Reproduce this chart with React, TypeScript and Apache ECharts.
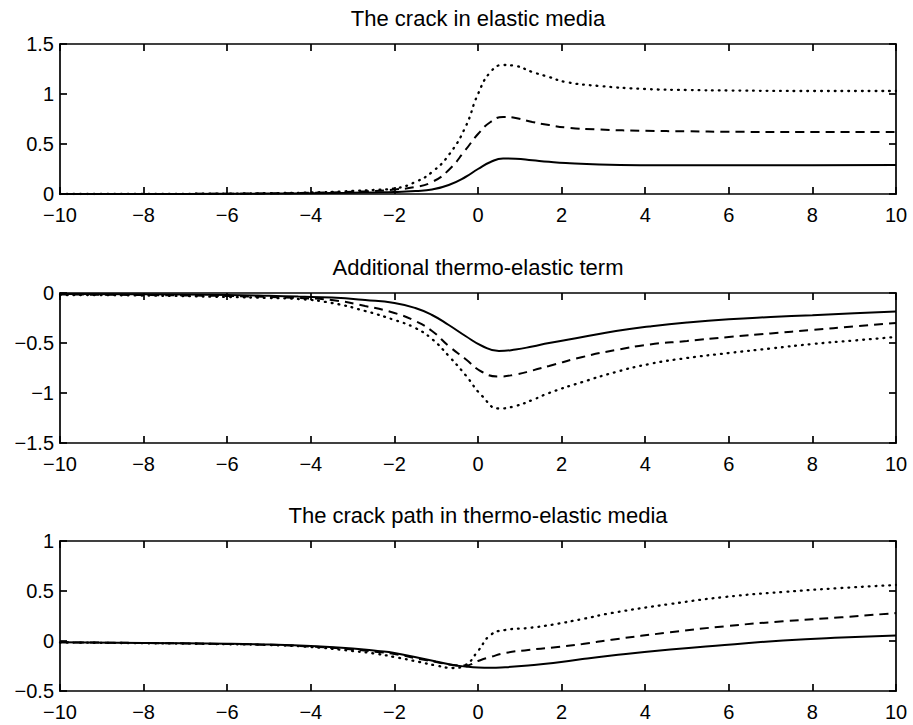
import React, { useEffect, useRef } from "react";
import * as echarts from "echarts";

// ---- Panel 1: The crack in elastic media ----
const xTop = [-10, -8, -6, -5, -4, -3, -2.5, -2, -1.5, -1.1, -0.7, -0.3, 0, 0.3, 0.6, 0.9, 1.3, 1.7, 2.1, 2.9, 4, 5, 6, 8, 10];
const topSolid = [0, 0, 0.002, 0.004, 0.007, 0.012, 0.016, 0.02, 0.03, 0.045, 0.09, 0.17, 0.25, 0.32, 0.355, 0.352, 0.337, 0.322, 0.31, 0.295, 0.288, 0.287, 0.287, 0.288, 0.29];
const topDashed = [0, 0, 0.003, 0.006, 0.012, 0.022, 0.03, 0.045, 0.07, 0.12, 0.24, 0.44, 0.6, 0.72, 0.77, 0.76, 0.72, 0.69, 0.665, 0.645, 0.632, 0.627, 0.622, 0.62, 0.62];
const topDotted = [0, 0.001, 0.004, 0.008, 0.015, 0.03, 0.04, 0.055, 0.12, 0.22, 0.39, 0.67, 1.0, 1.22, 1.29, 1.28, 1.22, 1.17, 1.12, 1.08, 1.05, 1.04, 1.035, 1.03, 1.03];

// ---- Panel 2: Additional thermo-elastic term ----
const xMid = [-10, -8, -6, -5, -4.3, -3.5, -2.7, -2, -1.5, -1.1, -0.7, -0.3, 0.1, 0.5, 0.9, 1.3, 1.7, 2.5, 3.3, 4.1, 5, 6, 7, 8, 9, 10];
const midSolid = [-0.01, -0.012, -0.02, -0.028, -0.036, -0.046, -0.07, -0.1, -0.15, -0.22, -0.32, -0.43, -0.53, -0.58, -0.565, -0.535, -0.5, -0.44, -0.38, -0.335, -0.295, -0.262, -0.24, -0.222, -0.202, -0.185];
const midDashed = [-0.015, -0.02, -0.03, -0.04, -0.05, -0.07, -0.13, -0.2, -0.28, -0.38, -0.53, -0.66, -0.79, -0.835, -0.815, -0.775, -0.73, -0.64, -0.57, -0.515, -0.48, -0.44, -0.405, -0.37, -0.335, -0.3];
const midDotted = [-0.02, -0.025, -0.04, -0.05, -0.06, -0.1, -0.18, -0.27, -0.35, -0.46, -0.63, -0.82, -1.03, -1.155, -1.13, -1.07, -1.0, -0.89, -0.79, -0.71, -0.65, -0.6, -0.555, -0.51, -0.475, -0.44];

// ---- Panel 3: The crack path in thermo-elastic media ----
const xBot = [-10, -8, -6, -5, -4, -3, -2.4, -2, -1.4, -1, -0.6, -0.3, 0, 0.3, 0.65, 1.2, 1.8, 2.5, 3.2, 4.6, 5.9, 7.3, 8.7, 10];
const botSolid = [-0.013, -0.02, -0.027, -0.035, -0.05, -0.075, -0.1, -0.12, -0.17, -0.205, -0.24, -0.255, -0.265, -0.268, -0.262, -0.245, -0.22, -0.18, -0.145, -0.085, -0.04, 0.005, 0.035, 0.055];
const botDashed = [-0.013, -0.02, -0.03, -0.038, -0.055, -0.085, -0.11, -0.13, -0.18, -0.21, -0.24, -0.245, -0.2, -0.16, -0.12, -0.09, -0.064, -0.03, 0.013, 0.087, 0.147, 0.197, 0.237, 0.28];
const botDotted = [-0.015, -0.022, -0.032, -0.04, -0.06, -0.1, -0.13, -0.16, -0.21, -0.245, -0.27, -0.24, -0.1, 0.06, 0.11, 0.13, 0.165, 0.22, 0.28, 0.37, 0.44, 0.49, 0.53, 0.56];

const titles = ["The crack in elastic media", "Additional thermo-elastic term", "The crack path in thermo-elastic media"];
const yRanges = [
  [0, 1.5],
  [-1.5, 0],
  [-0.5, 1],
];
const xTicks = { min: -10, max: 10, interval: 2 };
const yInterval = 0.5;

const FONT = "'Liberation Sans', Arial, Helvetica, sans-serif";
const GRID_LEFT = 60;
const GRID_W = 836;
const GRID_H = 150;
const GRID_TOPS = [44, 293, 541];

const fmt = (v: number) => String(v).replace("-", "\u2212");

function pairs(xs: number[], ys: number[]) {
  return xs.map((x, i) => [x, ys[i]]);
}

export default function App() {
  const ref = useRef<HTMLDivElement>(null);
  useEffect(() => {
    if (!ref.current) return;
    const chart = echarts.init(ref.current, undefined, { renderer: "svg" });
    const axisLine = { show: true, onZero: false, lineStyle: { color: "#000", width: 1.7 } };
    const tick = { show: true, inside: true, length: 7, lineStyle: { color: "#000", width: 1.7 } };
    const grids: any[] = [];
    const xAxes: any[] = [];
    const yAxes: any[] = [];
    GRID_TOPS.forEach((t, i) => {
      grids.push({ left: GRID_LEFT, top: t, width: GRID_W, height: GRID_H, show: false });
      xAxes.push({
        type: "value", gridIndex: i, position: "bottom", ...xTicks,
        axisLine, axisTick: tick, splitLine: { show: false },
        axisLabel: { color: "#000", fontSize: 20, fontFamily: FONT, margin: 11, formatter: fmt },
      });
      xAxes.push({
        type: "value", gridIndex: i, position: "top", ...xTicks,
        axisLine, axisTick: tick, splitLine: { show: false }, axisLabel: { show: false },
      });
      yAxes.push({
        type: "value", gridIndex: i, position: "left", min: yRanges[i][0], max: yRanges[i][1], interval: yInterval,
        axisLine, axisTick: tick, splitLine: { show: false },
        axisLabel: { color: "#000", fontSize: 20, fontFamily: FONT, margin: 6, formatter: fmt },
      });
      yAxes.push({
        type: "value", gridIndex: i, position: "right", min: yRanges[i][0], max: yRanges[i][1], interval: yInterval,
        axisLine, axisTick: tick, splitLine: { show: false }, axisLabel: { show: false },
      });
    });
    const panels = [
      [xTop, topSolid, topDashed, topDotted],
      [xMid, midSolid, midDashed, midDotted],
      [xBot, botSolid, botDashed, botDotted],
    ];
    const styles: any[] = [
      { color: "#000", width: 2, type: "solid" },
      { color: "#000", width: 2, type: [9, 6] },
      { color: "#000", width: 2.3, type: [0.8, 6], cap: "round" },
    ];
    const series: any[] = [];
    panels.forEach((p, i) => {
      for (let k = 0; k < 3; k++) {
        series.push({
          type: "line",
          xAxisIndex: i * 2,
          yAxisIndex: i * 2,
          data: pairs(p[0] as number[], p[k + 1] as number[]),
          showSymbol: false,
          smooth: 0.5,
          lineStyle: styles[k],
          silent: true,
        });
      }
    });
    chart.setOption({
      animation: false,
      backgroundColor: "#fff",
      grid: grids,
      xAxis: xAxes,
      yAxis: yAxes,
      series,
      graphic: titles.map((t, i) => ({
        type: "text",
        x: GRID_LEFT + GRID_W / 2,
        y: GRID_TOPS[i] - 26,
        style: { text: t, fontSize: 22, fontFamily: FONT, fill: "#000", align: "center", verticalAlign: "middle" },
      })),
    });
    return () => chart.dispose();
  }, []);
  return <div ref={ref} style={{ position: "absolute", left: 0, top: 0, width: 913, height: 725 }} />;
}
